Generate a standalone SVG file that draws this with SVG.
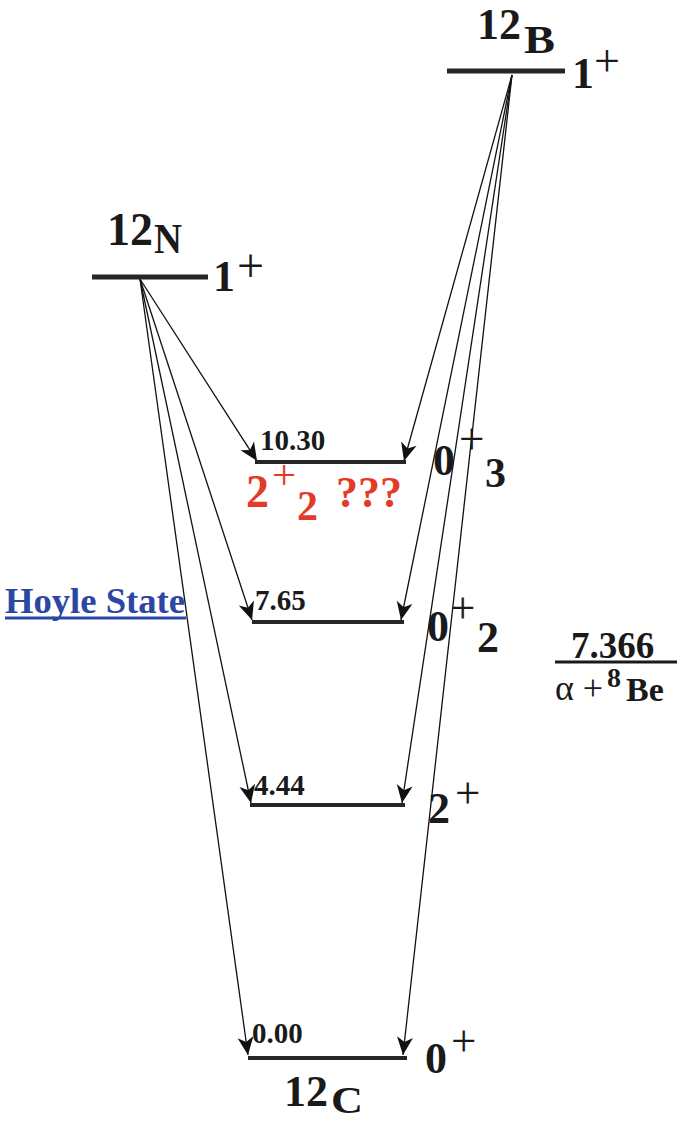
<svg xmlns="http://www.w3.org/2000/svg" width="682" height="1122" viewBox="0 0 682 1122">
<style>
.t{font-family:"Liberation Serif","Times New Roman",serif;font-weight:bold;fill:#1a1a1a}
.n{font-family:"Liberation Serif","Times New Roman",serif;font-weight:normal;fill:#1a1a1a}
.lv{stroke:#262626;stroke-width:4;fill:none}
.cn{stroke:#111;stroke-width:1.3;fill:none;marker-end:url(#ah)}
.red{fill:#e33b27}
</style>
<defs>
<marker id="ah" markerUnits="userSpaceOnUse" markerWidth="24" markerHeight="20" viewBox="-20 -10 22 20" refX="0" refY="0" orient="auto">
<path d="M0,0 L-18,-8 L-13,0 L-18,8 Z" fill="#111"/>
</marker>
</defs>
<rect width="682" height="1122" fill="#fff"/>
<g id="connectors">
<line class="cn" x1="140" y1="279" x2="257" y2="461"/>
<line class="cn" x1="140" y1="279" x2="252" y2="620"/>
<line class="cn" x1="140" y1="279" x2="251" y2="803"/>
<line class="cn" x1="140" y1="279" x2="248" y2="1055"/>
<line class="cn" x1="512" y1="75" x2="404" y2="461"/>
<line class="cn" x1="512" y1="75" x2="401" y2="620"/>
<line class="cn" x1="512" y1="75" x2="402" y2="803"/>
<line class="cn" x1="512" y1="75" x2="403" y2="1055"/>
</g>
<g id="B12">
<line class="lv" x1="447" y1="71" x2="565" y2="71" style="stroke-width:5"/>
<text class="t" x="477" y="39" font-size="44">12</text>
<text class="t" x="524" y="53" font-size="40" textLength="31" lengthAdjust="spacingAndGlyphs">B</text>
<text class="t" x="572" y="88" font-size="44">1</text>
<text class="n" x="594" y="76" font-size="46">+</text>
</g>
<g id="N12">
<line class="lv" x1="92" y1="277" x2="208" y2="277" style="stroke-width:5"/>
<text class="t" x="107" y="245" font-size="46">12</text>
<text class="t" x="154" y="253" font-size="42" textLength="28" lengthAdjust="spacingAndGlyphs">N</text>
<text class="t" x="213" y="291" font-size="44">1</text>
<text class="n" x="237" y="282" font-size="48">+</text>
</g>
<g id="L1030">
<line class="lv" x1="255" y1="462" x2="406" y2="462"/>
<text class="t" x="260" y="450" font-size="29">10.30</text>
<text class="t red" x="246" y="507" font-size="46">2</text>
<text class="n red" x="272" y="489" font-size="43">+</text>
<text class="t red" x="297" y="520" font-size="42">2</text>
<text class="t red" x="336" y="507" font-size="44">???</text>
<text class="t" x="433" y="475" font-size="44">0</text>
<text class="n" x="459" y="454" font-size="45">+</text>
<text class="t" x="485" y="487" font-size="42">3</text>
</g>
<g id="L765">
<line class="lv" x1="252" y1="622" x2="404" y2="622"/>
<text class="t" x="255" y="610" font-size="29">7.65</text>
<text class="t" x="427" y="641" font-size="44">0</text>
<text class="n" x="450" y="623" font-size="45">+</text>
<text class="t" x="477" y="652" font-size="44">2</text>
</g>
<g id="hoyle">
<text x="5" y="613" font-family="Liberation Serif,Times New Roman,serif" font-weight="bold" font-size="35" fill="#2b47a3" textLength="180" lengthAdjust="spacingAndGlyphs">Hoyle State</text>
<line x1="5" y1="618" x2="186" y2="618" stroke="#2b47a3" stroke-width="3"/>
</g>
<g id="L444">
<line class="lv" x1="250" y1="805" x2="405" y2="805"/>
<text class="t" x="254" y="795" font-size="29">4.44</text>
<text class="t" x="428" y="823" font-size="44">2</text>
<text class="n" x="455" y="808" font-size="45">+</text>
</g>
<g id="L000">
<line class="lv" x1="248" y1="1058" x2="407" y2="1058"/>
<text class="t" x="252" y="1043" font-size="29">0.00</text>
<text class="t" x="425" y="1073" font-size="44">0</text>
<text class="n" x="451" y="1056" font-size="45">+</text>
<text class="t" x="284" y="1106" font-size="44">12</text>
<text class="t" x="331" y="1113" font-size="38" textLength="32" lengthAdjust="spacingAndGlyphs">C</text>
</g>
<g id="threshold">
<text class="t" x="571" y="658" font-size="37">7.366</text>
<line x1="555" y1="662" x2="677" y2="662" stroke="#1a1a1a" stroke-width="3"/>
<text class="n" x="555" y="700" font-size="36">α +</text>
<text class="t" x="607" y="687" font-size="28">8</text>
<text class="t" x="626" y="701" font-size="34">Be</text>
</g>
</svg>
